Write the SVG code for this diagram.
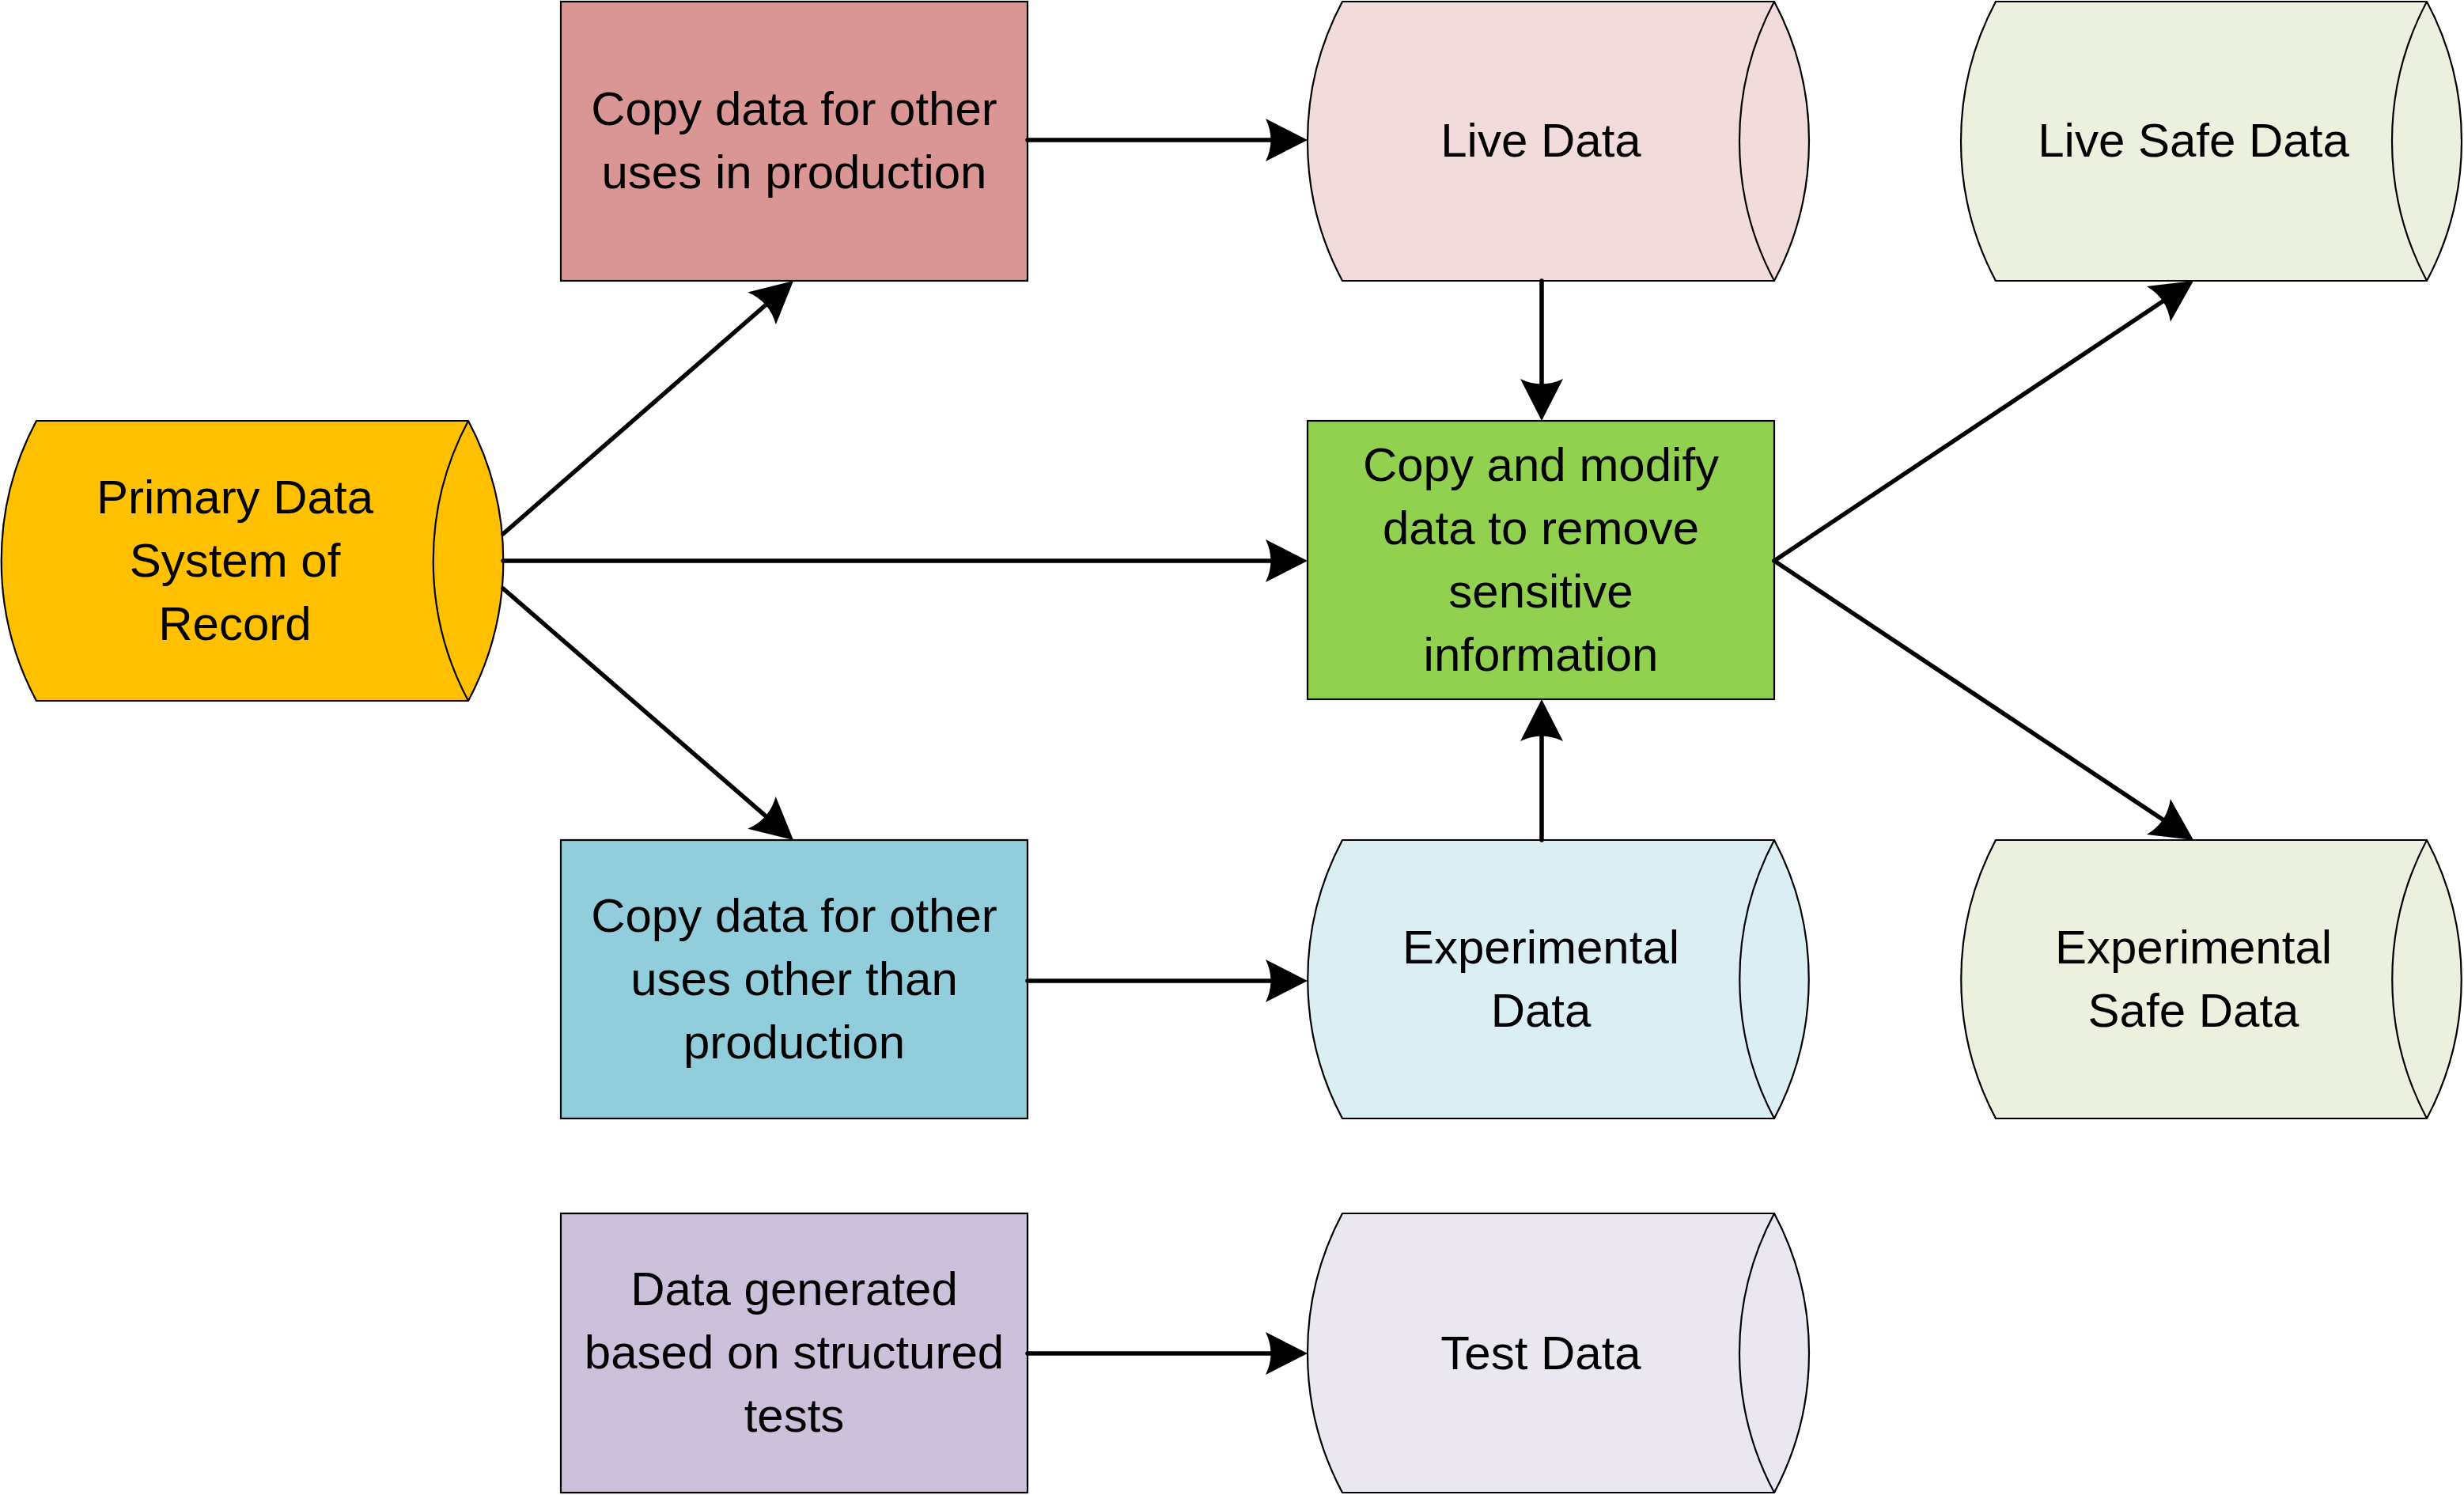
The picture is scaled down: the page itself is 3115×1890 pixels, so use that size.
<svg xmlns="http://www.w3.org/2000/svg" width="3115" height="1890" viewBox="0 0 3115 1890">
<style>
.shape{stroke:#000;stroke-width:2.2;stroke-linejoin:miter}
.inner{fill:none;stroke:#000;stroke-width:2.2}
.lbl{font-family:"Liberation Sans",Arial,sans-serif;font-size:60px;fill:#000;text-anchor:middle}
.conn{fill:none;stroke:#000;stroke-width:5.5;stroke-linecap:round}
</style>
<defs>
<marker id="ah" markerUnits="userSpaceOnUse" markerWidth="70" markerHeight="70" viewBox="-60 -35 70 70" refX="-40" refY="0" orient="auto" overflow="visible">
<path d="M0,0 L-53,-27 Q-40,0 -53,27 Z" fill="#000"/>
</marker>
</defs>
<rect width="3115" height="1890" fill="#fff"/>

<g id="primary">
<path class="shape" fill="#FFC000" d="M46,532 L592,532 A376 376 0 0 1 592,886 L46,886 A376 376 0 0 1 46,532 Z"/>
<path class="inner" d="M592,532 A376 376 0 0 0 592,886"/>
<text class="lbl" x="297" y="649">Primary Data</text>
<text class="lbl" x="297" y="729">System of</text>
<text class="lbl" x="297" y="809">Record</text>
</g>

<g id="copy-prod">
<rect class="shape" fill="#DA9694" x="709" y="2" width="590" height="353"/>
<text class="lbl" x="1004" y="158">Copy data for other</text>
<text class="lbl" x="1004" y="238">uses in production</text>
</g>

<g id="live-data">
<path class="shape" fill="#F2DCDB" d="M1697,2 L2243,2 A376 376 0 0 1 2243,355 L1697,355 A376 376 0 0 1 1697,2 Z"/>
<path class="inner" d="M2243,2 A376 376 0 0 0 2243,355"/>
<text class="lbl" x="1948" y="198">Live Data</text>
</g>

<g id="live-safe-data">
<path class="shape" fill="#EBF1DE" d="M2523,2 L3068,2 A376 376 0 0 1 3068,355 L2523,355 A376 376 0 0 1 2523,2 Z"/>
<path class="inner" d="M3068,2 A376 376 0 0 0 3068,355"/>
<text class="lbl" x="2773" y="198">Live Safe Data</text>
</g>

<g id="copy-modify">
<rect class="shape" fill="#92D050" x="1653" y="532" width="590" height="352"/>
<text class="lbl" x="1948" y="608">Copy and modify</text>
<text class="lbl" x="1948" y="688">data to remove</text>
<text class="lbl" x="1948" y="768">sensitive</text>
<text class="lbl" x="1948" y="848">information</text>
</g>

<g id="copy-other">
<rect class="shape" fill="#92CDDC" x="709" y="1062" width="590" height="352"/>
<text class="lbl" x="1004" y="1178">Copy data for other</text>
<text class="lbl" x="1004" y="1258">uses other than</text>
<text class="lbl" x="1004" y="1338">production</text>
</g>

<g id="experimental-data">
<path class="shape" fill="#DBEEF3" d="M1697,1062 L2243,1062 A376 376 0 0 1 2243,1414 L1697,1414 A376 376 0 0 1 1697,1062 Z"/>
<path class="inner" d="M2243,1062 A376 376 0 0 0 2243,1414"/>
<text class="lbl" x="1948" y="1218">Experimental</text>
<text class="lbl" x="1948" y="1298">Data</text>
</g>

<g id="experimental-safe-data">
<path class="shape" fill="#EBF1DE" d="M2523,1062 L3068,1062 A376 376 0 0 1 3068,1414 L2523,1414 A376 376 0 0 1 2523,1062 Z"/>
<path class="inner" d="M3068,1062 A376 376 0 0 0 3068,1414"/>
<text class="lbl" x="2773" y="1218">Experimental</text>
<text class="lbl" x="2773" y="1298">Safe Data</text>
</g>

<g id="data-generated">
<rect class="shape" fill="#CCC0DA" x="709" y="1534" width="590" height="353"/>
<text class="lbl" x="1004" y="1650">Data generated</text>
<text class="lbl" x="1004" y="1730">based on structured</text>
<text class="lbl" x="1004" y="1810">tests</text>
</g>

<g id="test-data">
<path class="shape" fill="#EBE7F0" d="M1697,1534 L2243,1534 A376 376 0 0 1 2243,1887 L1697,1887 A376 376 0 0 1 1697,1534 Z"/>
<path class="inner" d="M2243,1534 A376 376 0 0 0 2243,1887"/>
<text class="lbl" x="1948" y="1731">Test Data</text>
</g>

<g id="connectors">
<path class="conn" marker-end="url(#ah)" d="M636,675 L972.9,381.3"/>
<path class="conn" marker-end="url(#ah)" d="M636,709 L1613,709"/>
<path class="conn" marker-end="url(#ah)" d="M636,744 L972.8,1035.8"/>
<path class="conn" marker-end="url(#ah)" d="M1299,177 L1613,177"/>
<path class="conn" marker-end="url(#ah)" d="M1949,355 L1949,492"/>
<path class="conn" marker-end="url(#ah)" d="M1949,1062 L1949,924"/>
<path class="conn" marker-end="url(#ah)" d="M1299,1240 L1613,1240"/>
<path class="conn" marker-end="url(#ah)" d="M1299,1711 L1613,1711"/>
<path class="conn" marker-end="url(#ah)" d="M2243,709 L2739.7,377.2"/>
<path class="conn" marker-end="url(#ah)" d="M2243,709 L2739.7,1039.8"/>
</g>
</svg>
